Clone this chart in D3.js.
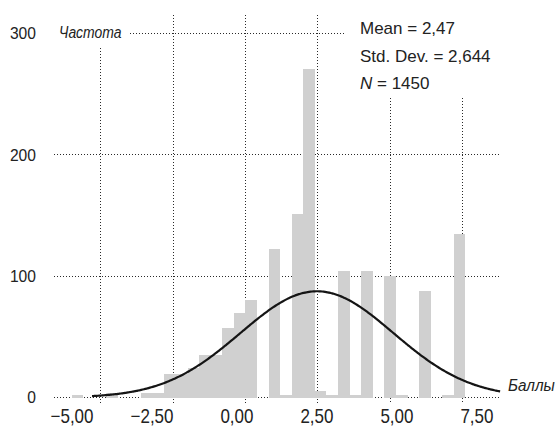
<!DOCTYPE html>
<html>
<head>
<meta charset="utf-8">
<script src="https://cdn.jsdelivr.net/npm/d3@7"></script>
<style>
  html, body { margin: 0; padding: 0; background: #fff; }
  svg { display: block; }
  text { font-family: "Liberation Sans", Arial, sans-serif; fill: #222; }
</style>
</head>
<body>
<svg id="chart" width="555" height="426"></svg>
<script>
// ---------- data ----------
const binStart = [-6.0, -5.6, -5.2, -4.8, -4.4, -4.0, -3.6, -3.2, -2.8, -2.4, -2.0, -1.6, -1.2, -0.8, -0.4,
                  0.0, 0.4, 0.8, 1.2, 1.6, 2.0, 2.4, 2.8, 3.2, 3.6, 4.0, 4.4, 4.8, 5.2, 5.6, 6.0, 6.4, 6.8, 7.2];
const binEnd   = [-5.6, -5.2, -4.8, -4.4, -4.0, -3.6, -3.2, -2.8, -2.4, -2.0, -1.6, -1.2, -0.8, -0.4, 0.0,
                  0.4, 0.8, 1.2, 1.6, 2.0, 2.4, 2.8, 3.2, 3.6, 4.0, 4.4, 4.8, 5.2, 5.6, 6.0, 6.4, 6.8, 7.2, 7.6];
const counts   = [2, 0, 0, 4, 0, 0, 4, 4, 19, 19, 24, 35, 35, 57, 70,
                  80, 0, 122, 2, 151, 271, 5, 2, 104, 2, 104, 0, 100, 2, 0, 88, 0, 2, 135];
const xTicks = [-5, -2.5, 0, 2.5, 5, 7.5];
const xTickLabels = ["\u22125,00", "\u22122,50", "0,00", "2,50", "5,00", "7,50"];
const yTicks = [0, 100, 200, 300];
const yTickLabels = ["0", "100", "200", "300"];
const statMean = 2.47, statSD = 2.644, statN = 1450, binWidth = 0.4;
const statLines = ["Mean = 2,47", "Std. Dev. = 2,644", "= 1450"];
const xTitle = "Баллы", yTitle = "Частота";

// ---------- layout / styles ----------
const svg = d3.select("#chart");
const x = d3.scaleLinear().domain([-5, 7.5]).range([100.7, 462.5]);
const y = d3.scaleLinear().domain([0, 300]).range([397.5, 33.3]);
const labelX = d3.scaleLinear().domain([-5, 7.5]).range([93.5, 493.5]); // label right edges
const hGrid = [ {v: 0, from: -6.63, to: 8.8}, {v: 100, from: -6.63, to: 8.8},
                {v: 200, from: -6.63, to: 8.8}, {v: 300, from: -4.0, to: 3.45} ];
const vGrid = [ {v: -5, top: 288}, {v: -2.5, top: 315}, {v: 0, top: 315},
                {v: 2.5, top: 315}, {v: 5, top: 247}, {v: 7.5, top: 247} ];
const gridColor = "#2a2a2a";
const px = v => Math.floor(v) + 0.5;

// gridlines
const gGrid = svg.append("g");
gGrid.selectAll("line.h").data(hGrid).enter().append("line")
  .attr("x1", d => Math.round(x(d.from))).attr("x2", d => Math.round(x(d.to)))
  .attr("y1", d => px(y(d.v))).attr("y2", d => px(y(d.v)))
  .attr("stroke", gridColor).attr("stroke-width", 1).attr("stroke-dasharray", "1,2")
  .attr("shape-rendering", "crispEdges");
gGrid.selectAll("line.v").data(vGrid).enter().append("line")
  .attr("x1", d => px(x(d.v))).attr("x2", d => px(x(d.v)))
  .attr("y1", d => Math.round(y(d.top))).attr("y2", y(-4.6))
  .attr("stroke", gridColor).attr("stroke-width", 1).attr("stroke-dasharray", "1,2")
  .attr("shape-rendering", "crispEdges");

// bars
const bins = counts.map((c, i) => ({x0: binStart[i], x1: binEnd[i], c}));
svg.append("g").selectAll("rect").data(bins.filter(d => d.c > 0)).enter().append("rect")
  .attr("x", d => x(d.x0)).attr("width", d => x(d.x1) - x(d.x0))
  .attr("y", d => y(d.c)).attr("height", d => y(0) - y(d.c))
  .attr("fill", "#d0d0d0").attr("shape-rendering", "crispEdges");

// normal curve
const scaleK = statN * binWidth / (statSD * Math.sqrt(2 * Math.PI));
const curvePts = d3.range(-5.3, 8.8001, 0.05).map(v => [v, scaleK * Math.exp(-0.5 * Math.pow((v - statMean) / statSD, 2))]);
svg.append("path").datum(curvePts)
  .attr("d", d3.line().x(d => x(d[0])).y(d => y(d[1])).curve(d3.curveBasis))
  .attr("fill", "none").attr("stroke", "#151515").attr("stroke-width", 2.2);

// text helper: condensed text
function ctext(xp, yp, str, size, sx, anchor, italic) {
  const g = svg.append("g").attr("transform", `translate(${xp},${yp}) scale(${sx},1)`);
  const t = g.append("text").attr("text-anchor", anchor).attr("font-size", size);
  if (italic) t.attr("font-style", "italic");
  t.text(str);
  return t;
}

// y tick labels
yTicks.forEach((v, i) => ctext(36, y(v) + 5.8, yTickLabels[i], 17, 0.92, "end", false));
// x tick labels
xTicks.forEach((v, i) => ctext(labelX(v), 422.5, xTickLabels[i], 20, 0.85, "end", false));

// axis titles
ctext(59, 38, yTitle, 17, 0.82, "start", true);
ctext(508, 390.7, xTitle, 17, 0.9, "start", true);

// statistics
ctext(360, 33.5, statLines[0], 17, 1.0, "start", false);
ctext(360, 61.5, statLines[1], 17, 1.0, "start", false);
const nt = ctext(360, 88.5, "", 17, 1.0, "start", false);
nt.append("tspan").attr("font-style", "italic").text("N");
nt.append("tspan").text(" " + statLines[2]);
</script>
</body>
</html>
